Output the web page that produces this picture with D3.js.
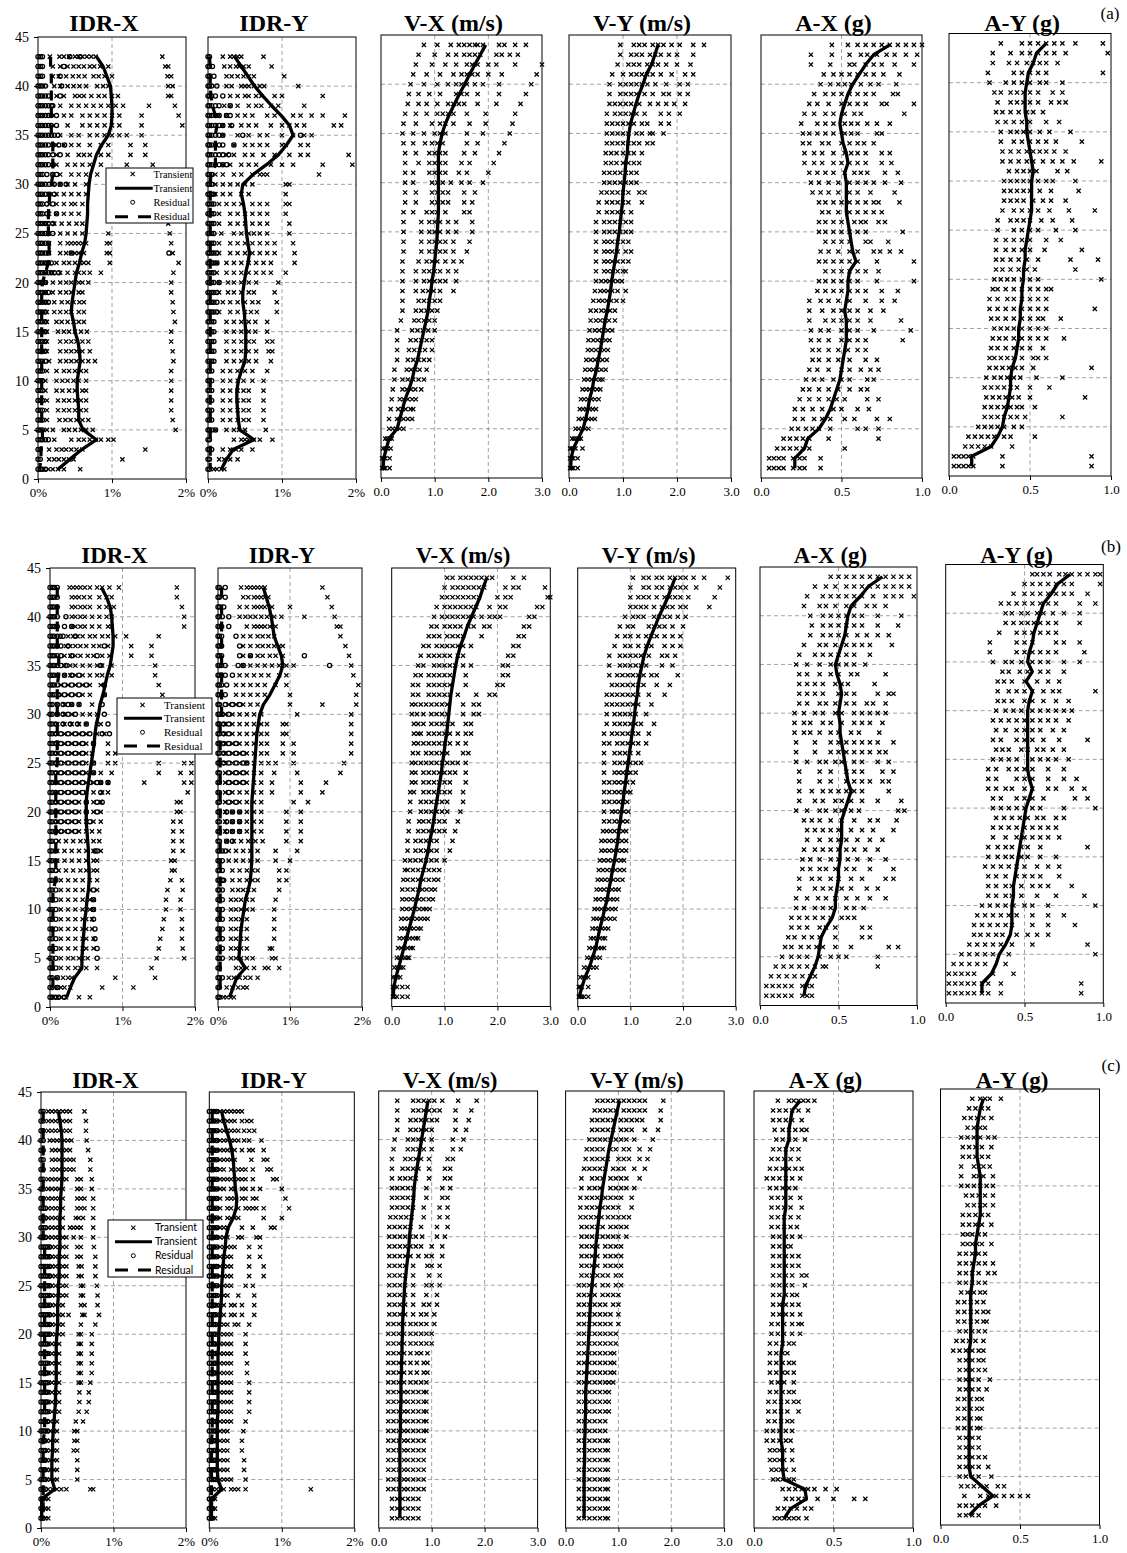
<!DOCTYPE html>
<html><head><meta charset="utf-8">
<script src="https://cdn.jsdelivr.net/npm/d3@7"></script>
<style>
body{margin:0;background:#fff}
svg{display:block}
.grid{stroke:#8a8a8a;stroke-width:0.8;stroke-dasharray:4,3;fill:none}
.frame{fill:none;stroke:#000;stroke-width:1}
.ax text{font-family:"Liberation Serif",serif;fill:#000}
.ax path{display:none}
.ax line{stroke:#000}
</style></head><body>
<svg id="c" width="1127" height="1553"></svg>
<script>
// ---------------- categories / ticks ----------------
const idrStories=[1,2,3,4,5,6,7,8,9,10,11,12,13,14,15,16,17,18,19,20,21,22,23,24,25,26,27,28,29,30,31,32,33,34,35,36,37,38,39,40,41,42,43];
const vaLevels=[1,2,3,4,5,6,7,8,9,10,11,12,13,14,15,16,17,18,19,20,21,22,23,24,25,26,27,28,29,30,31,32,33,34,35,36,37,38,39,40,41,42,43,44];
const yTicks=[0,5,10,15,20,25,30,35,40,45];
const gridLevels=[5,10,15,20,25,30,35,40];
const idrTicks=[0,1,2], idrTickLabels=["0%","1%","2%"];
const vTicks=[0,1,2,3], vTickLabels=["0.0","1.0","2.0","3.0"];
const aTicks=[0,0.5,1], aTickLabels=["0.0","0.5","1.0"];
const panelTitles=["IDR-X","IDR-Y","V-X (m/s)","V-Y (m/s)","A-X (g)","A-Y (g)"];
const rowLetters=["(a)","(b)","(c)"];
const legendLabels=["Transient","Transient","Residual","Residual"];
// All arrays below: top storey first, going down to storey/level 1.

// ================= ROW (a) =================
const aIdrXMed=[.79,.88,.93,.98,.99,1.0,1.0,.99,.95,.86,.79,.75,.71,.69,.68,.67,.67,.66,.65,.63,.59,.56,.52,.50,.48,.46,.45,.48,.50,.54,.56,.57,.55,.53,.53,.54,.55,.55,.61,.79,.59,.43,.27];
const aIdrXPts=[
[.16,.29,.35,.42,.5,.55,.6,.66,.72,.78,1.68],[.2,.3,.4,.48,.55,.62,.7,.76,.84,.95,1.72,1.76],[.2,.28,.38,.47,.55,.63,.75,.82,.9,1.0,1.75,1.8],
[.22,.3,.4,.48,.56,.65,.8,.88,.95,1.76,1.82],[.25,.35,.5,.56,.62,.72,.82,.9,1.0,1.08,1.76,1.8],[.3,.45,.55,.65,.75,.85,.95,1.05,1.15,1.5,1.85],
[.35,.45,.6,.7,.8,.9,1.0,1.1,1.4,1.9],[.4,.6,.7,.8,.9,1.0,1.1,1.4,1.95],[.3,.45,.55,.7,.8,.9,1.0,1.1,1.2,1.4],
[.25,.35,.45,.55,.7,.85,.95,1.25,1.45],[.25,.4,.55,.62,.7,.85,.95,1.25,1.45],[.25,.4,.5,.6,.7,.85,1.2,1.55],
[.2,.3,.45,.55,.65,.8],[.2,.3,.4,.5,.65],[.15,.25,.35,.45,.55,.65],[.15,.25,.35,.45,.5,.6],[.15,.25,.35,.45,.55],
[.12,.22,.32,.42,.52,.6,1.76],[.15,.3,.4,.5,.6,.95,1.78],[.15,.3,.4,.45,.5,.55,.6,.65,.93,.97,1.8],
[.15,.3,.38,.45,.5,.55,.62,.93,.97,1.82],[.12,.25,.35,.42,.5,.57,.62,.68,.97,1.9],[.1,.2,.3,.4,.5,.55,.62,.7,.85,1.83],
[.1,.2,.3,.38,.45,.55,.6,.68,1.8],[.1,.2,.3,.38,.45,.55,.6,1.8],[.12,.22,.32,.4,.48,.56,.62,1.82],[.12,.22,.3,.38,.45,.55,.62,1.83],
[.12,.25,.32,.4,.48,.55,.62,1.85],[.12,.27,.35,.42,.5,.58,.66,1.8],[.12,.3,.38,.45,.52,.6,.68,1.8],[.12,.3,.38,.45,.52,.6,.7,1.82],
[.15,.3,.38,.45,.52,.6,.68,.77,1.83],[.12,.25,.35,.42,.5,.58,.65,1.8],[.1,.25,.33,.4,.48,.55,.65,1.8],[.1,.25,.33,.42,.5,.6,.65,1.8],
[.12,.27,.35,.42,.5,.58,.65,1.8],[.12,.27,.35,.42,.5,.58,.65,1.8],[.12,.29,.37,.44,.52,.6,.68,1.82],[.12,.2,.35,.42,.5,.58,.65,.74,1.86],
[.22,.45,.55,.62,.7,.78,.85,.95,1.02],[.15,.25,.32,.38,.45,.52,.6,1.45],[.15,.22,.28,.35,.42,.48,1.14],[.08,.14,.2,.27,.35,.57]];
const aIdrXRes=[
[0,.03,.06,.43,.57],[0,.03,.06,.35],[0,.03,.06,.3],[0,.03,.06,.1,.32],[0,.03,.06,.1,.14,.3],[0,.03,.06,.1,.14,.18,.2],[0,.03,.06,.1,.14,.18,.25],
[0,.03,.06,.1,.14,.18,.25],[0,.03,.06,.1,.14,.18,.22,.27],[0,.03,.06,.1,.14,.2,.28,.36],[0,.03,.06,.1,.14,.2,.3],[0,.03,.06,.1,.14,.2],
[0,.03,.06,.12,.2,.25],[0,.03,.06,.1,.15,.22,.3,.38],[0,.03,.06,.1,.15,.22],[0,.03,.06,.12,.2],[0,.03,.06,.12,.25],[0,.03,.06,.1,.14,.2],
[0,.03,.06,.1,.14,.2],[0,.03,.06,.1,.14],[0,.03,.06,.1,.14,.45,1.77],[0,.03,.06,.1,.14,.18],[0,.03,.06,.1,.14,.18,.22,.28],[0,.03,.06,.1],
[0,.03,.06,.1,.14],[0,.03,.06,.1,.14],[0,.03,.06,.1],[0,.03,.06,.1],[0,.03,.06,.1],[0,.03,.06,.1],[0,.03,.06,.1],[0,.03,.06,.1],
[0,.03,.06],[0,.03,.06],[0,.03,.06],[0,.03,.06],[0,.03,.06],[0,.03,.06],[0,.03,.06],[0,.03,.06,.1,.14],[0,.03],[0,.03],[0,.03,.06,.1]];
const aIdrXResMed=[.17,.17,.18,.18,.18,.18,.18,.18,.18,.2,.2,.2,.2,.18,.16,.15,.14,.14,.14,.15,.15,.14,.1,.06,.05,.05,.05,.05,.05,.05,.05,.05,.05,.05,.05,.05,.05,.05,.06,.06,.04,.04,.02];

const aIdrYMed=[.36,.45,.54,.63,.74,.86,.99,1.1,1.15,1.06,.95,.79,.61,.47,.45,.48,.50,.51,.52,.54,.56,.54,.51,.49,.47,.47,.49,.50,.51,.51,.51,.50,.45,.41,.39,.39,.40,.41,.43,.62,.34,.25,.18];
const aIdrYPts=[
[.2,.3,.35,.4,.45,.75],[.22,.3,.38,.42,.48,.55,.86],[.25,.32,.4,.48,.55,.62,1.03],[.25,.32,.45,.5,.55,.62,.7,.76,1.22],
[.3,.4,.5,.55,.65,.72,.9,1.0,1.55],[.22,.3,.4,.55,.65,.72,.85,.95,1.3],[.15,.25,.4,.5,.6,.8,.9,1.15,1.25,1.4,1.55,1.85],
[.2,.3,.45,.55,.65,.85,1.0,1.1,1.2,1.3,1.7,1.8],[.2,.4,.55,.7,.8,1.0,1.15,1.3,1.4],[.35,.5,.6,.7,.8,1.0,1.05,1.25,1.35],
[.25,.35,.5,.6,.75,.9,1.1,1.25,1.35,1.9],[.2,.3,.45,.55,.65,.85,1.0,1.15,1.55,1.95],[.1,.2,.35,.45,.6,.7,.75,.8,1.5],
[.1,.2,.3,.4,.5,.6,1.05,1.1],[.1,.2,.3,.45,.55,1.05],[.15,.25,.35,.45,.6,.7,.8,1.05,1.1],[.15,.3,.4,.5,.6,.7,.8,1.05],
[.15,.3,.4,.5,.6,.7,.8,1.1],[.18,.35,.45,.55,.62,.7,.8,1.1],[.15,.3,.4,.5,.6,.7,.8,.9,1.15],[.15,.3,.4,.5,.6,.7,.8,.9,1.17],
[.12,.25,.35,.45,.55,.65,.75,.85,1.17],[.12,.25,.35,.45,.55,.65,.75,.85,1.05],[.15,.27,.35,.45,.55,.65,.95],[.15,.27,.35,.45,.55,.62,.9],
[.2,.3,.4,.5,.6,.68,.93],[.15,.3,.4,.5,.58,.66,.93],[.25,.35,.45,.55,.64,.8],[.25,.35,.45,.55,.64,.8],[.25,.35,.45,.55,.62,.8,.87],
[.25,.35,.45,.55,.65,.82,.87],[.25,.35,.45,.55,.65,.85],[.2,.3,.4,.5,.6,.8],[.2,.3,.4,.48,.6,.75],[.2,.3,.4,.48,.55,.75],
[.2,.3,.4,.48,.55,.75],[.2,.3,.4,.48,.55,.75],[.2,.3,.4,.48,.55,.75],[.1,.25,.35,.42,.5,.78],[.35,.45,.5,.55,.62,.7,.87],
[.2,.3,.38,.45,.6],[.15,.22,.3,.4],[.08,.12,.18,.22]];
const aIdrYRes=[
[0,.02],[0,.02,.06],[0,.02,.08],[0,.02,.05,.12],[0,.02,.05,.1,.2],[0,.02,.05,.1,.15,.3],[0,.02,.05,.1,.15,.25,.3],[0,.02,.05,.1,.15,.2,.32],
[0,.02,.05,.1,.15,.2,.47,1.25],[0,.02,.05,.1,.15,.2,.35],[0,.02,.05,.1,.15,.2,.28],[0,.02,.05,.1,.15,.2,.25],[0,.02,.05],[0,.02,.05],
[0,.02,.05,.08],[0,.02,.05,.08],[0,.02,.05,.08],[0,.02,.05,.08],[0,.02,.05,.08],[0,.02,.05,.08],[0,.02,.05,.08,.12],[0,.02,.05,.08,.12],
[0,.02,.05,.08],[0,.02,.05,.08,.15],[0,.02,.05,.08,.12],[0,.02,.05,.08,.12],[0,.02,.05,.08,.12],[0,.02,.05,.08],[0,.02,.05,.08],
[0,.02,.05,.08],[0,.02,.05,.08],[0,.02,.05,.08],[0,.02,.05],[0,.02,.05],[0,.02,.05],[0,.02,.05],[0,.02,.05],[0,.02,.05],[0,.02,.05,.1],
[0,.02],[0,.02,.05],[0,.02],[0,.02]];
const aIdrYResMed=[.02,.03,.03,.03,.04,.06,.1,.12,.1,.1,.1,.1,.04,.03,.03,.03,.03,.03,.03,.03,.03,.03,.03,.03,.03,.03,.03,.03,.03,.03,.03,.03,.03,.03,.03,.03,.03,.03,.03,.03,.03,.03,.03];

const aVxMed=[1.95,1.85,1.75,1.65,1.56,1.46,1.37,1.28,1.2,1.14,1.1,1.07,1.07,1.07,1.07,1.07,1.07,1.07,1.06,1.05,1.04,1.02,1.0,.98,.95,.93,.9,.88,.84,.8,.76,.72,.68,.62,.58,.52,.45,.4,.35,.3,.15,.1,.05,.04];
const aVxPts=[
[.8,1.05,1.3,1.45,1.55,1.65,1.75,1.8,1.9,2.2,2.3,2.5,2.7],[.7,1.0,1.25,1.4,1.55,1.65,1.75,1.85,2.15,2.25,2.4,2.55],
[.65,.95,1.2,1.4,1.6,1.7,1.8,2.0,2.15,2.5,3.0],[.6,.85,1.1,1.35,1.5,1.6,1.7,1.8,2.0,2.25,2.9],[.55,.8,1.05,1.25,1.4,1.5,1.6,1.75,1.9,2.2,2.8],
[.52,.7,.9,1.1,1.4,1.5,1.6,1.8,2.2,2.7],[.5,.7,.85,1.05,1.25,1.35,1.45,1.55,1.8,2.15,2.6],[.45,.65,.85,1.05,1.15,1.25,1.35,1.6,1.95,2.5],
[.42,.65,.95,1.1,1.2,1.35,1.65,1.95,2.45],[.4,.6,.8,1.0,1.1,1.2,1.6,1.9,2.4],[.42,.6,.82,.95,1.05,1.15,1.6,1.8,2.3],
[.45,.65,.9,1.0,1.1,1.2,1.55,1.75,2.2],[.45,.7,.9,1.0,1.1,1.2,1.5,1.65,2.1],[.45,.6,.9,1.0,1.1,1.2,1.45,1.6,2.0],
[.45,.6,.95,1.05,1.15,1.3,1.5,1.65,1.9],[.45,.65,.95,1.05,1.15,1.25,1.55,1.75],[.45,.65,.95,1.05,1.15,1.25,1.55,1.7],
[.42,.6,.85,.95,1.05,1.2,1.55,1.65],[.42,.75,.9,1.0,1.1,1.25,1.4,1.7],[.42,.75,.9,1.0,1.1,1.25,1.4,1.7],[.42,.75,.9,1.0,1.1,1.2,1.35,1.65],
[.42,.75,.9,1.0,1.1,1.2,1.35,1.6],[.4,.7,.85,.95,1.05,1.2,1.35,1.5],[.4,.65,.8,.9,1.0,1.1,1.25,1.4],[.4,.65,.8,.9,1.0,1.1,1.2,1.4],
[.4,.65,.78,.88,.98,1.1,1.35],[.4,.7,.8,.9,1.0,1.1],[.4,.65,.75,.85,.95,1.05],[.37,.62,.7,.8,.9,1.0],[.3,.58,.68,.78,.88,1.0],
[.3,.55,.65,.75,.85,.95],[.3,.52,.62,.72,.82,.95],[.3,.5,.6,.7,.8,.9],[.25,.48,.56,.64,.72,.85],[.25,.4,.5,.6,.7,.8],
[.22,.4,.48,.56,.64,.75],[.2,.35,.42,.5,.58,.65],[.18,.32,.4,.46,.55,.6],[.15,.3,.35,.42,.5,.58],[.15,.22,.28,.35,.42],
[.08,.12,.16,.2],[.04,.08,.12,.18],[.02,.05,.08,.16],[.02,.05,.08,.16]];

const aVyMed=[1.65,1.59,1.53,1.43,1.37,1.3,1.24,1.19,1.14,1.11,1.09,1.08,1.05,1.04,1.02,1.0,.99,.97,.95,.93,.9,.88,.85,.82,.79,.77,.74,.71,.67,.64,.61,.58,.54,.51,.46,.43,.38,.35,.31,.26,.17,.08,.04,.03];
const aVyPts=[
[.95,1.2,1.3,1.4,1.55,1.65,1.75,1.9,2.05,2.3,2.5],[.95,1.15,1.25,1.35,1.5,1.6,1.7,1.85,2.0,2.3],[.9,1.1,1.2,1.3,1.45,1.55,1.65,1.8,2.0,2.25],
[.8,1.0,1.15,1.25,1.35,1.45,1.55,1.7,1.9,2.15,2.3],[.75,.95,1.05,1.15,1.25,1.35,1.45,1.6,1.8,2.05,2.2],[.75,.95,1.05,1.15,1.25,1.4,1.55,1.75,1.85,2.05,2.2],
[.75,.85,.95,1.05,1.15,1.3,1.5,1.65,1.8,1.95,2.15],[.7,.85,.95,1.05,1.15,1.25,1.4,1.7,1.85,2.05],[.7,.8,.9,1.0,1.1,1.2,1.35,1.45,1.7,1.85],
[.7,.8,.9,1.0,1.1,1.25,1.35,1.5,1.55,1.75],[.7,.8,.9,1.0,1.1,1.2,1.3,1.45,1.55],[.68,.78,.88,1.0,1.1,1.2,1.35],[.68,.78,.88,1.0,1.1,1.2,1.3],
[.65,.75,.85,.95,1.05,1.15,1.25],[.65,.75,.85,.95,1.05,1.15,1.25],[.6,.7,.8,.9,1.0,1.1,1.3,1.4],[.55,.7,.8,.9,1.0,1.1,1.35],
[.55,.7,.8,.9,1.0,1.15],[.5,.65,.75,.85,.95,1.05,1.15],[.5,.65,.75,.85,.95,1.05,1.15],[.5,.65,.72,.8,.9,1.0,1.1],[.5,.65,.72,.8,.9,1.05,1.15],
[.5,.65,.72,.8,.9,1.0,1.1],[.5,.65,.72,.8,.9,1.0,1.05],[.5,.6,.68,.75,.82,.9,.98],[.48,.58,.65,.72,.8,.9,1.05],[.45,.55,.62,.7,.78,.88,1.0],
[.4,.5,.6,.68,.76,.85],[.4,.5,.58,.66,.74,.85],[.38,.48,.56,.64,.72,.8],[.36,.45,.53,.6,.68,.75],[.35,.42,.5,.58,.65,.72],
[.32,.4,.48,.55,.62,.7],[.3,.38,.45,.52,.6,.68],[.28,.35,.42,.5,.58,.62],[.25,.32,.38,.45,.52,.58],[.22,.28,.35,.42,.48,.55],
[.2,.26,.32,.38,.44,.5],[.18,.24,.3,.36,.42,.48],[.12,.18,.24,.3,.36],[.06,.1,.14,.18,.22],[.02,.05,.08,.12,.25],[.02,.05,.08,.16],[.02,.05,.08,.16]];

const aAxMed=[.80,.70,.65,.61,.57,.54,.52,.50,.49,.50,.51,.53,.54,.52,.53,.53,.53,.53,.54,.55,.56,.57,.59,.55,.54,.54,.53,.52,.53,.53,.53,.52,.51,.50,.49,.47,.45,.43,.40,.36,.29,.27,.21,.21];
const aAxPts=[
[.44,.54,.6,.65,.7,.75,.8,.85,.9,.95,1.0],[.31,.44,.55,.62,.66,.72,.78,.83,.9,.97],[.31,.43,.55,.58,.65,.7,.75,.83,.95],
[.39,.45,.5,.55,.6,.65,.7,.76,.86],[.37,.43,.48,.52,.56,.62,.68,.73,.84],[.33,.4,.45,.5,.55,.6,.65,.7,.82,.85],
[.3,.35,.42,.5,.55,.6,.65,.75,.78,.95],[.27,.33,.4,.45,.52,.58,.62,.89],[.25,.35,.4,.45,.52,.56,.6,.66,.72,.8],
[.26,.3,.35,.4,.45,.52,.56,.6,.72,.75],[.26,.3,.38,.42,.5,.55,.6,.64,.7],[.27,.33,.38,.45,.52,.56,.6,.65,.75,.8],
[.27,.33,.38,.45,.5,.55,.6,.65,.75,.81],[.3,.35,.4,.45,.52,.58,.62,.66,.77,.85],[.31,.36,.42,.48,.55,.6,.65,.7,.77,.87],
[.32,.37,.42,.48,.55,.6,.68,.83],[.36,.4,.45,.5,.55,.6,.65,.7,.73,.86],[.38,.42,.48,.55,.6,.65,.7,.75],[.36,.4,.45,.5,.58,.62,.65,.73,.77],
[.36,.4,.45,.5,.55,.6,.65,.88],[.4,.45,.5,.55,.65,.68,.79],[.37,.42,.48,.55,.6,.7,.74,.8,.87],[.36,.4,.45,.5,.55,.6,.72,.95],
[.4,.45,.5,.55,.6,.65,.73],[.36,.4,.45,.5,.55,.6,.72,.95],[.35,.4,.45,.5,.55,.6,.65,.75,.85],[.3,.37,.42,.48,.55,.65,.75,.83],
[.3,.38,.45,.5,.55,.6,.68,.76],[.3,.4,.45,.5,.55,.6,.68,.87],[.31,.37,.42,.5,.55,.6,.7,.93],[.31,.36,.42,.5,.55,.6,.65,.88],
[.32,.36,.42,.48,.54,.6,.65],[.32,.36,.42,.48,.55,.65,.72],[.3,.35,.42,.5,.55,.62,.68,.73],[.28,.33,.38,.45,.5,.55,.66,.7],
[.26,.3,.36,.42,.48,.55,.62,.66],[.24,.3,.36,.42,.47,.52,.66,.73],[.21,.26,.32,.38,.45,.5,.6,.67],[.21,.26,.33,.38,.43,.52,.58,.72,.8],
[.19,.23,.28,.32,.36,.43,.6,.65,.73],[.14,.18,.22,.26,.3,.42,.73],[.1,.14,.18,.22,.26,.3,.52],[.05,.08,.11,.14,.2,.24,.27,.37],[.05,.08,.11,.14,.2,.24,.27,.37]];

const aAyMed=[.60,.54,.52,.49,.48,.47,.47,.47,.48,.48,.49,.50,.51,.52,.51,.51,.51,.51,.50,.49,.48,.47,.47,.46,.46,.45,.45,.44,.44,.43,.43,.42,.41,.39,.38,.38,.37,.36,.34,.33,.30,.26,.14,.14];
const aAyPts=[
[.32,.45,.5,.55,.6,.65,.7,.78,.95],[.27,.38,.45,.5,.55,.6,.65,.72,.98],[.27,.37,.42,.48,.52,.56,.6,.67],[.24,.4,.45,.5,.55,.6,.95],
[.25,.35,.4,.45,.5,.56,.6,.7],[.28,.32,.38,.42,.46,.5,.55,.64,.7],[.3,.38,.42,.46,.5,.55,.63,.68,.72],[.29,.33,.38,.43,.48,.52,.58],
[.3,.35,.4,.45,.5,.6,.68],[.32,.38,.42,.46,.5,.56,.62,.75],[.32,.4,.45,.5,.55,.6,.66,.82],[.33,.38,.43,.48,.52,.56,.6,.65,.72],
[.33,.38,.43,.48,.52,.58,.64,.7,.77,.94],[.37,.42,.46,.5,.54,.67,.73],[.34,.38,.42,.46,.5,.55,.6,.64,.78],[.34,.38,.42,.46,.5,.56,.63,.8],
[.34,.38,.42,.46,.52,.58,.63,.72],[.33,.4,.45,.5,.55,.62,.74,.9],[.3,.38,.42,.46,.5,.57,.64,.76],[.3,.4,.45,.5,.55,.66,.78],
[.29,.35,.4,.45,.5,.6,.69],[.29,.35,.4,.45,.5,.59,.82],[.29,.33,.38,.43,.48,.55,.75,.92],[.29,.33,.38,.43,.48,.53,.78],
[.28,.32,.36,.4,.45,.5,.55,.94],[.27,.3,.35,.4,.45,.5,.55,.6,.63],[.25,.3,.36,.4,.45,.5,.55,.6],[.25,.3,.35,.4,.45,.5,.55,.6,.9],
[.26,.3,.35,.4,.45,.5,.55,.58,.69],[.28,.32,.36,.4,.45,.5,.55,.6],[.27,.31,.35,.4,.45,.5,.55,.6,.71],[.26,.3,.35,.4,.45,.5,.58],
[.25,.28,.32,.36,.4,.45,.52,.55,.6],[.25,.29,.33,.37,.41,.45,.52,.88],[.23,.28,.32,.36,.4,.44,.54,.7],[.22,.26,.3,.34,.38,.42,.5,.62],
[.23,.27,.31,.35,.39,.43,.5,.84],[.22,.26,.3,.34,.38,.42,.45,.53],[.22,.26,.3,.34,.38,.42,.47,.7],[.18,.22,.26,.3,.34,.4,.45],
[.12,.16,.2,.24,.28,.34,.38,.53],[.1,.14,.18,.22,.26,.39],[.03,.06,.09,.12,.15,.33,.88],[.03,.06,.09,.12,.15,.33,.88]];

// ================= ROW (b) =================
const bIdrXMed=[.71,.78,.83,.85,.86,.87,.87,.85,.83,.79,.76,.73,.69,.67,.64,.62,.61,.59,.57,.55,.53,.51,.50,.50,.50,.51,.52,.53,.53,.54,.54,.53,.51,.50,.48,.47,.46,.45,.44,.44,.34,.28,.23];
const bIdrXPts=[
[.27,.32,.37,.42,.48,.55,.65,.72,.82,.95,1.75],[.3,.35,.4,.47,.55,.68,.78,.85,1.75],[.3,.35,.42,.48,.55,.68,.78,.88,1.82],
[.3,.35,.42,.48,.58,.68,.78,.85,1.85],[.3,.35,.42,.48,.58,.68,.8,.85,1.85],[.25,.32,.38,.45,.55,.62,.72,.8,.9,1.05,1.5],
[.22,.28,.35,.42,.5,.6,.68,.8,1.12,1.4],[.2,.28,.35,.42,.52,.6,.72,.82,1.12,1.4],[.2,.28,.35,.45,.55,.65,.72,.85,1.45],
[.2,.28,.35,.45,.55,.65,.72,.85,1.45],[.15,.25,.35,.45,.55,.7,.75,1.5],[.15,.25,.35,.45,.55,.75,1.55],[.1,.2,.3,.4,.58,1.6],
[.1,.2,.3,.45,.55,.65],[.1,.2,.3,.4,.5,.65,.7],[.1,.2,.3,.4,.5,.65,.75],[.1,.2,.3,.4,.5,.6,.8],[.1,.2,.3,.4,.5,.58,.8,.9],
[.1,.2,.3,.4,.5,.6,.8,.9,1.5,1.85,1.95],[.1,.2,.3,.4,.5,.6,.7,.85,1.5,1.8,1.95],[.1,.2,.3,.4,.5,.6,.7,.8,1.3,1.85,1.95],
[.1,.2,.3,.4,.5,.6,.72,.8,1.9],[.1,.2,.3,.4,.5,.6,.7,1.75,1.8],[.1,.2,.3,.4,.5,.6,.7,1.75,1.8],[.1,.2,.3,.4,.5,.6,.7,1.7,1.8],
[.12,.2,.3,.4,.5,.58,.68,1.7,1.82],[.12,.22,.32,.42,.5,.6,.68,1.7,1.82],[.1,.2,.3,.4,.5,.6,.7,1.7,1.83],[.1,.2,.3,.4,.5,.6,.65,1.67,1.72],
[.12,.22,.32,.42,.5,.6,.65,1.68,1.72],[.15,.25,.35,.45,.55,.65,1.66,1.82],[.15,.25,.35,.45,.55,.65,1.62,1.83],[.15,.25,.35,.45,.55,.6,1.6,1.8],
[.15,.25,.35,.45,.55,.6,1.6,1.8],[.15,.25,.35,.45,.5,.58,1.57,1.82],[.15,.25,.35,.45,.5,.58,1.55,1.82],[.15,.25,.35,.45,.5,.6,1.52,1.82],
[.15,.25,.35,.45,.5,.6,1.5,1.83],[.15,.25,.32,.4,.45,.52,1.47,1.85],[.15,.25,.35,.42,.5,.65,1.4],[.1,.18,.25,.3,.9,1.45],
[.1,.15,.2,.28,.72,1.15],[.05,.1,.15,.22,.4,.55]];
const bIdrXRes=[
[0,.03,.06,.1],[0,.03,.06,.1],[0,.03,.06,.1],[0,.03,.06,.1,.22],[0,.03,.06,.1,.2,.3],[0,.03,.06,.1,.14,.18,.35],[0,.03,.06,.1,.15,.25,.75],
[0,.03,.06,.1,.15,.3,.65],[0,.03,.06,.1,.15,.22,.7],[0,.03,.06,.1,.2,.3,.4],[0,.03,.06,.1,.2,.3,.4,.5,.75],[0,.03,.06,.12,.2,.3,.4,.75],
[0,.03,.1,.18,.25,.3,.4,.72],[0,.03,.1,.18,.25,.35,.75],[0,.03,.08,.18,.28,.38,.5,.8],[0,.03,.08,.15,.25,.35,.45,.55,.72,.82],
[0,.03,.08,.15,.25,.35,.45,.6],[0,.03,.08,.15,.25,.35,.45],[0,.03,.08,.15,.25,.35,.45,.6],[0,.03,.08,.15,.25,.35,.45,.6],
[0,.03,.08,.15,.25,.35,.45,.55,.65,.7,.8],[0,.03,.08,.15,.25,.35,.45,.7],[0,.03,.08,.15,.25,.35,.5,.65,.72],[0,.03,.08,.15,.25,.35,.5,.65],
[0,.03,.08,.15,.25,.35,.55],[0,.03,.08,.15,.25,.35],[0,.03,.08],[0,.03,.08,.62,.65],[0,.03,.08],[0,.03,.08],[0,.03,.08],[0,.03,.08,.6],
[0,.03,.08,.6],[0,.03,.08,.6],[0,.03,.08,.6],[0,.03,.08,.62],[0,.03,.08,.62],[0,.03,.08,.65],[0,.03,.08,.65],[0,.03,.08],[0,.03,.1],
[0,.03,.1],[0,.03,.08,.12,.2]];
const bIdrXResMed=[.1,.1,.1,.1,.1,.1,.1,.12,.12,.12,.1,.1,.1,.1,.1,.1,.1,.1,.1,.08,.08,.08,.08,.08,.08,.08,.08,.08,.08,.08,.08,.04,.04,.04,.04,.04,.04,.04,.04,.04,.04,.04,.04];

const bIdrYMed=[.63,.67,.71,.74,.76,.78,.83,.88,.90,.86,.79,.72,.63,.58,.56,.54,.53,.52,.51,.50,.49,.48,.47,.47,.47,.47,.47,.47,.47,.46,.45,.42,.38,.36,.34,.32,.31,.30,.29,.38,.26,.21,.16];
const bIdrYPts=[
[.32,.4,.45,.5,.55,.6,.65,1.45],[.35,.42,.5,.55,.6,.65,.7,1.52],[.3,.4,.5,.55,.6,.65,.75,1.0,1.58],[.3,.38,.45,.52,.6,.68,.78,.88,1.2,1.62],
[.4,.5,.55,.6,.65,.72,.8,1.65,1.7],[.35,.45,.55,.62,.7,.78,1.7],[.35,.45,.55,.62,.7,.78,.85,.9,1.77],[.35,.45,.55,.62,.72,.8,.9,1.82],
[.35,.45,.55,.65,.75,.85,.95,1.05,1.85],[.3,.4,.5,.6,.7,.85,.95,1.88],[.25,.35,.45,.55,.65,.8,.95,1.95],[.25,.35,.45,.55,.65,1.0,1.92],
[.15,.25,.35,.45,.55,1.0,1.45,1.92],[.1,.2,.3,.4,.5,.6,1.1,1.85],[.1,.2,.3,.4,.5,.6,.68,.9,.95,1.85],[.1,.2,.3,.4,.5,.6,.68,.9,.95,1.85],
[.1,.2,.3,.4,.5,.6,.68,.9,1.05,1.85],[.1,.2,.3,.4,.5,.6,.68,.9,1.05,1.85],[.1,.2,.3,.4,.5,.6,.7,.8,1.05,1.75],[.1,.2,.3,.4,.5,.6,.78,1.1,1.7],
[.1,.2,.3,.4,.5,.6,.75,1.15,1.5],[.1,.2,.3,.4,.5,.6,.75,1.15,1.45],[.1,.2,.3,.4,.5,.6,1.05,1.25],[.1,.2,.3,.4,.5,.6,.95,1.15],
[.1,.2,.3,.4,.5,.6,.95,1.15],[.1,.2,.3,.4,.5,.6,.95,1.15],[.12,.22,.32,.42,.52,.62,.95,1.15],[.15,.25,.35,.45,.55,.8,1.1],
[.15,.25,.35,.45,.55,.8,1.0],[.2,.3,.4,.48,.55,.85,.95],[.2,.3,.4,.48,.55,.85,.95],[.2,.28,.35,.42,.5,.85],[.18,.25,.32,.4,.48,.8],
[.18,.25,.32,.4,.48,.78],[.18,.25,.32,.4,.78],[.18,.25,.32,.4,.78],[.18,.25,.32,.4,.78],[.18,.25,.32,.4,.72,.75],[.18,.25,.32,.4,.48,.75,.8],
[.25,.32,.4,.5,.65,.7,.85],[.15,.22,.3,.38,.45,.55],[.12,.2,.28,.35,.4],[.08,.12,.18,.22]];
const bIdrYRes=[
[0,.02,.1],[0,.02,.1],[0,.02,.08],[0,.02,.06,.15],[0,.02,.05,.15],[0,.02,.05,.25],[0,.02,.05,.3],[0,.02,.05,.3,.45,1.2],
[0,.02,.05,.1,.28,.35,1.55],[0,.02,.05,.1,.2],[0,.02,.05,.12],[0,.02,.05,.1],[0,.02,.1,.2,.3],[0,.02,.06,.15],[0,.02,.08,.15],
[0,.02,.08,.15],[0,.02,.08,.15,.25],[0,.02,.08,.15,.25,.35],[0,.02,.08,.15,.25,.35,.4],[0,.02,.15,.25,.35],[0,.02,.15,.25,.35],
[0,.02,.15],[0,.02,.15,.25],[0,.02,.12,.2,.3],[0,.02,.12,.2,.3],[0,.02,.12,.2,.3],[0,.02,.12,.2],[0,.02,.06,.1],[0,.02,.06],
[0,.02,.06],[0,.02,.06,.08],[0,.02,.06],[0,.02,.06],[0,.02,.06],[0,.02,.06],[0,.02,.06],[0,.02,.06],[0,.02,.06],[0,.02,.06],
[0,.02],[0,.02,.06],[0,.02],[0,.02]];
const bIdrYResMed=[.05,.05,.05,.05,.05,.05,.05,.05,.05,.05,.05,.05,.05,.05,.03,.03,.03,.03,.03,.03,.03,.03,.03,.03,.03,.03,.03,.03,.03,.03,.03,.03,.03,.03,.03,.03,.03,.03,.03,.03,.03,.03,.03];

const bVxMed=[1.8,1.73,1.67,1.59,1.51,1.43,1.37,1.3,1.25,1.21,1.18,1.15,1.12,1.1,1.08,1.06,1.04,1.01,.99,.96,.94,.91,.88,.85,.82,.79,.76,.72,.69,.65,.6,.55,.52,.47,.43,.38,.33,.28,.23,.18,.13,.08,.04,.03];
const bVxPts=[
[1.05,1.15,1.3,1.4,1.5,1.6,1.7,1.8,1.9,2.3,2.5],[1.0,1.15,1.25,1.35,1.45,1.55,1.65,1.75,2.15,2.3,2.4,2.9],
[.95,1.05,1.15,1.25,1.35,1.45,1.55,1.65,2.0,2.15,2.25,2.95,3.0],[.85,1.0,1.1,1.2,1.3,1.4,1.5,1.6,1.85,2.05,2.15,2.75,2.85],
[.8,.95,1.05,1.15,1.25,1.35,1.45,1.55,1.7,1.85,1.95,2.05,2.6,2.7],[.75,.85,1.0,1.1,1.2,1.3,1.45,1.55,1.75,1.85,2.5,2.6],
[.7,.8,.9,1.05,1.15,1.25,1.35,1.7,2.4,2.5],[.6,.7,.85,.95,1.05,1.15,1.25,1.35,1.5,2.3,2.4],[.55,.7,.8,.9,1.0,1.1,1.25,1.35,2.2,2.3],
[.5,.6,.8,.9,1.0,1.1,1.2,1.35,1.5,2.1,2.2],[.45,.55,.7,.8,.9,1.0,1.1,1.4,2.1,2.2],[.4,.5,.7,.8,.9,1.0,1.1,1.4,2.0,2.1],
[.4,.5,.7,.8,.9,1.0,1.1,1.25,1.6,1.85,1.95],[.38,.45,.55,.65,.75,.85,.95,1.05,1.35,1.55,1.65],[.38,.48,.6,.75,.85,.95,1.05,1.35,1.55,1.65],
[.42,.5,.6,.75,.85,.95,1.05,1.15,1.4,1.5],[.42,.5,.55,.7,.8,.9,1.0,1.1,1.25,1.4,1.5],[.42,.5,.6,.7,.8,.9,1.0,1.1,1.25,1.4],
[.4,.5,.65,.75,.85,.95,1.05,1.35,1.45],[.38,.45,.55,.65,.75,.85,.95,1.05,1.15,1.25,1.4],[.38,.45,.6,.7,.8,.9,1.0,1.1,1.2,1.4],
[.38,.45,.6,.7,.8,.9,1.0,1.1,1.4],[.35,.42,.6,.7,.8,.9,1.0,1.1,1.35],[.35,.55,.65,.75,.85,.95,1.05,1.35],[.35,.55,.65,.75,.85,.95,1.05,1.3],
[.32,.52,.6,.7,.8,.9,1.0,1.25],[.32,.5,.6,.7,.8,.9,1.0,1.2],[.3,.45,.55,.65,.75,.85,1.15],[.3,.45,.55,.65,.75,.85,1.1],
[.25,.35,.45,.55,.65,.75,.85,1.0],[.25,.3,.4,.5,.6,.7,.8,.9],[.22,.3,.4,.5,.6,.7,.8,.88],[.2,.3,.4,.5,.58,.66,.75,.82],
[.2,.28,.36,.44,.52,.6,.7,.78],[.2,.28,.36,.44,.52,.6,.65,.72],[.18,.25,.32,.4,.48,.55,.62,.68],[.18,.24,.3,.36,.42,.5,.55],
[.15,.22,.28,.34,.4,.46,.5],[.12,.18,.24,.3,.36,.4],[.1,.15,.2,.25,.3,.33],[.05,.1,.14,.18,.22],[.03,.07,.11,.16],[.02,.05,.1,.2,.3],[.02,.05,.1,.2,.3]];

const bVyMed=[1.85,1.78,1.71,1.63,1.54,1.47,1.39,1.32,1.26,1.22,1.18,1.15,1.13,1.1,1.08,1.06,1.03,1.01,.98,.96,.93,.91,.88,.86,.83,.81,.78,.76,.73,.70,.66,.63,.59,.56,.51,.47,.42,.38,.34,.28,.22,.14,.08,.03];
const bVyPts=[
[1.05,1.25,1.35,1.5,1.6,1.75,1.85,1.95,2.05,2.2,2.4,2.85],[1.0,1.25,1.35,1.5,1.6,1.75,1.85,1.95,2.05,2.25,2.7],
[1.0,1.15,1.25,1.35,1.5,1.65,1.75,1.85,1.95,2.1,2.6],[1.0,1.1,1.2,1.3,1.45,1.6,1.7,1.8,1.95,2.05,2.5],
[.9,1.05,1.15,1.25,1.45,1.55,1.65,1.75,1.9,2.05],[.8,.95,1.05,1.35,1.45,1.55,1.65,1.8,2.0],[.75,.9,1.0,1.15,1.3,1.4,1.5,1.65,1.8,1.95],
[.7,.9,1.0,1.15,1.3,1.4,1.65,1.8,1.95],[.6,.8,.9,1.0,1.1,1.2,1.35,1.6,1.7,1.85],[.6,.8,.9,1.0,1.1,1.2,1.3,1.6,1.8],
[.6,.75,.85,.95,1.05,1.15,1.25,1.4,1.5,1.9],[.65,.75,.85,.95,1.05,1.15,1.25,1.5,1.75],[.55,.65,.75,.85,.95,1.05,1.15,1.35,1.65],
[.55,.65,.75,.85,.95,1.05,1.15,1.4],[.55,.7,.8,.9,1.0,1.1,1.3],[.55,.7,.8,.9,1.0,1.1,1.2,1.45],[.5,.65,.75,.85,.95,1.05,1.15,1.35],
[.5,.6,.75,.85,.95,1.05,1.15,1.3],[.5,.7,.8,.9,1.0,1.15],[.5,.7,.8,.9,1.0,1.1,1.2],[.5,.7,.78,.86,.94,1.0,1.1],[.5,.6,.7,.78,.86,.94,1.05],
[.5,.6,.7,.78,.86,.94,1.0],[.5,.6,.7,.78,.86,.94],[.5,.65,.72,.8,.88,.96],[.5,.6,.7,.78,.86,.94],[.48,.55,.62,.7,.78,.86,.92],
[.45,.52,.6,.68,.76,.84,.92],[.45,.52,.6,.68,.76,.84,.92],[.42,.5,.58,.66,.74,.82,.88],[.4,.48,.56,.64,.72,.8,.88],[.38,.45,.52,.6,.68,.76,.85],
[.36,.43,.5,.58,.65,.72,.78],[.34,.4,.48,.55,.62,.68,.75],[.32,.38,.45,.52,.58,.65,.72],[.3,.36,.42,.48,.55,.62,.7],[.28,.34,.4,.46,.52,.58],
[.25,.3,.36,.42,.48,.52],[.22,.28,.34,.4,.45,.5],[.18,.24,.3,.36,.42],[.12,.18,.24,.3,.36],[.05,.1,.15,.2],[.02,.05,.08,.2],[.02,.05,.08,.12,.2]];

const bAxMed=[.78,.69,.64,.58,.56,.55,.54,.52,.50,.48,.49,.51,.52,.51,.50,.51,.51,.52,.53,.54,.55,.56,.58,.56,.54,.52,.52,.52,.51,.51,.50,.50,.49,.48,.48,.46,.42,.39,.38,.37,.35,.32,.29,.28];
const bAxPts=[
[.45,.5,.55,.6,.65,.7,.75,.8,.85,.9,.95],[.35,.42,.48,.55,.6,.65,.7,.75,.8,.85,.9,.95],[.3,.4,.45,.5,.55,.6,.65,.72,.8,.85,.9,.98],
[.28,.38,.42,.48,.55,.6,.68,.73,.8],[.32,.4,.45,.5,.55,.6,.65,.75,.9],[.33,.4,.45,.5,.55,.6,.65,.75,.88],[.32,.4,.45,.5,.55,.62,.68,.75,.82],
[.28,.38,.42,.48,.55,.6,.65,.7,.84],[.25,.35,.4,.45,.5,.55,.6,.7],[.23,.3,.38,.45,.5,.55,.6,.67],[.25,.3,.38,.45,.5,.58,.62,.8],
[.25,.3,.35,.4,.48,.52,.56,.73],[.25,.3,.35,.4,.5,.55,.6,.75,.82,.85],[.25,.3,.38,.42,.48,.55,.6,.68,.72,.8],
[.22,.28,.35,.4,.48,.52,.6,.65,.7,.75,.8],[.22,.28,.32,.4,.45,.52,.6,.65,.7,.78],[.22,.28,.32,.38,.45,.5,.58,.63,.76],
[.23,.35,.45,.5,.55,.6,.65,.7,.75,.85],[.23,.35,.45,.5,.55,.6,.65,.7,.76,.8],[.23,.3,.38,.42,.48,.52,.6,.65,.75,.82],
[.25,.38,.45,.55,.6,.65,.78,.85],[.25,.38,.45,.55,.6,.65,.7,.78,.82],[.25,.33,.4,.45,.5,.55,.6,.65,.82],[.25,.35,.4,.48,.52,.58,.65,.75,.9],
[.23,.3,.38,.42,.48,.52,.58,.63,.88,.92],[.28,.33,.38,.45,.52,.6,.7,.75,.87],[.3,.35,.4,.45,.5,.58,.65,.72,.85],[.3,.38,.45,.5,.55,.62,.7,.78],
[.28,.35,.4,.45,.5,.55,.6,.67,.75],[.27,.32,.38,.45,.5,.56,.62,.7,.8],[.27,.32,.38,.42,.48,.55,.6,.7,.85],[.25,.33,.38,.45,.5,.58,.65,.8,.85],
[.25,.35,.4,.45,.52,.58,.68,.75],[.23,.3,.37,.42,.48,.55,.62,.7,.8],[.23,.28,.35,.4,.45,.55,.6,.66],[.2,.25,.3,.35,.4,.45,.52,.56,.6],
[.2,.25,.3,.38,.42,.48,.65,.7],[.18,.22,.28,.33,.38,.48,.65,.7],[.16,.2,.26,.31,.36,.4,.48,.58,.82,.88],[.14,.2,.25,.3,.38,.45,.5,.55,.75],
[.1,.15,.2,.25,.3,.35,.4,.42,.75],[.07,.12,.17,.22,.27,.32,.35],[.04,.08,.12,.16,.2,.27,.3,.33],[.04,.08,.12,.16,.2,.27,.3,.33]];

const bAyMed=[.79,.71,.67,.62,.60,.58,.56,.55,.53,.52,.55,.51,.55,.53,.52,.52,.52,.52,.52,.52,.52,.53,.55,.53,.51,.50,.49,.48,.47,.46,.45,.44,.43,.43,.42,.42,.42,.41,.38,.34,.32,.29,.23,.23];
const bAyPts=[
[.55,.58,.62,.66,.72,.76,.8,.85,.9,.95,.98],[.5,.55,.6,.65,.7,.75,.8,.98],[.43,.5,.55,.6,.65,.7,.75,.8,.9],[.35,.4,.45,.5,.55,.6,.65,.7,.85,.95],
[.38,.42,.48,.52,.58,.62,.68,.75,.85],[.38,.43,.48,.52,.56,.6,.65,.7,.85],[.34,.45,.5,.55,.6,.65,.7],[.28,.45,.5,.55,.7,.75,.85],
[.28,.45,.5,.55,.6,.65,.7,.88],[.3,.38,.42,.48,.55,.6,.65,.75,.85],[.36,.4,.47,.52,.6,.65,.75],[.33,.37,.42,.5,.58,.65,.72],
[.33,.4,.45,.5,.55,.62,.68,.72,.95],[.33,.37,.42,.5,.55,.62,.7,.78],[.32,.38,.43,.48,.55,.6,.65,.7,.75,.8],[.3,.35,.4,.45,.5,.55,.6,.65,.7,.78],
[.32,.38,.45,.5,.55,.6,.68,.75],[.3,.35,.45,.5,.55,.62,.72,.9],[.32,.36,.4,.48,.52,.58,.62,.68,.75],[.3,.35,.4,.45,.55,.6,.65,.7,.78],
[.27,.32,.4,.45,.5,.55,.65,.75],[.27,.32,.45,.5,.55,.65,.75,.83],[.27,.32,.38,.42,.5,.55,.65,.7,.8,.88],[.3,.35,.45,.5,.55,.62,.82,.9],
[.3,.35,.4,.45,.5,.55,.6,.75,.95],[.32,.37,.42,.47,.52,.58,.62,.7,.75],[.3,.35,.4,.45,.5,.55,.6,.65,.7],[.3,.38,.45,.5,.55,.6,.65,.72],
[.27,.33,.38,.42,.48,.52,.6,.9],[.27,.33,.38,.42,.48,.52,.6,.7],[.25,.3,.35,.4,.45,.5,.58,.65,.72],[.27,.32,.38,.45,.5,.55,.6,.72],
[.27,.32,.38,.42,.48,.55,.6,.65,.8],[.27,.32,.38,.42,.48,.58,.7,.88],[.23,.28,.33,.38,.43,.5,.55,.65,.95],[.2,.25,.3,.35,.4,.45,.55,.65,.75],
[.18,.23,.28,.33,.38,.42,.55,.65,.82],[.18,.22,.27,.32,.36,.45,.52,.58,.65],[.15,.2,.25,.3,.35,.42,.55,.9],[.1,.15,.2,.25,.3,.4,.95],
[.05,.1,.15,.2,.25,.38],[.02,.06,.1,.14,.18,.3,.43],[.02,.06,.1,.14,.18,.23,.27,.35,.86],[.02,.06,.1,.14,.18,.23,.27,.35,.86]];

// ================= ROW (c) =================
const cIdrXMed=[.24,.26,.28,.29,.29,.29,.29,.29,.28,.27,.27,.26,.26,.26,.26,.25,.25,.25,.24,.24,.23,.23,.23,.22,.21,.21,.21,.21,.21,.2,.2,.19,.18,.17,.16,.16,.15,.15,.15,.19,.01,.01,.01];
const cIdrXPts=[
[.1,.15,.2,.25,.3,.35,.4,.6],[.1,.15,.2,.25,.3,.35,.4,.62],[.1,.15,.2,.25,.3,.35,.4,.62],[.12,.17,.22,.27,.32,.37,.42,.63],
[.15,.2,.25,.3,.35,.4,.65],[.15,.2,.25,.3,.35,.4,.45,.68],[.15,.2,.25,.3,.35,.4,.45,.68],[.1,.15,.2,.25,.3,.35,.5,.55,.7],
[.1,.15,.2,.25,.3,.5,.55,.7],[.1,.15,.2,.25,.3,.5,.55,.6,.72],[.1,.15,.2,.25,.3,.5,.55,.6,.72],[.1,.15,.2,.25,.3,.48,.52,.58,.72],
[.1,.15,.2,.25,.3,.4,.45,.5,.55,.72],[.1,.15,.2,.25,.3,.35,.45,.55,.72],[.1,.15,.2,.25,.3,.35,.5,.55,.73],[.1,.15,.2,.25,.3,.35,.5,.55,.75],
[.1,.15,.2,.25,.3,.35,.52,.56,.75],[.1,.15,.2,.25,.3,.35,.52,.56,.75],[.1,.15,.2,.25,.3,.35,.55,.58,.77],[.1,.15,.2,.25,.3,.35,.55,.58,.78],
[.1,.15,.2,.25,.3,.55,.6,.78],[.1,.15,.2,.25,.3,.38,.57,.6,.8],[.1,.15,.2,.25,.3,.55,.75],[.1,.15,.2,.25,.3,.52,.55,.7],
[.1,.15,.2,.25,.52,.55,.7],[.1,.15,.2,.25,.52,.55,.7],[.1,.15,.2,.25,.52,.55,.7],[.1,.15,.2,.25,.52,.55,.7],[.1,.15,.2,.25,.52,.55,.68],
[.1,.15,.2,.25,.53,.66],[.1,.15,.2,.25,.53,.66],[.1,.15,.2,.25,.52,.63],[.08,.13,.18,.22,.48,.58],[.08,.13,.18,.22,.46,.5],
[.08,.13,.18,.22,.46,.5],[.08,.13,.18,.22,.45,.5],[.08,.13,.18,.22,.5],[.08,.13,.18,.22,.5],[.08,.13,.18,.22,.5],
[.1,.16,.22,.28,.35,.68,.72],[.02,.06,.1],[.02,.06,.1],[.02,.06,.1]];
const cIdrXRes=[
[0,.03],[0,.03],[0,.03],[0,.03],[0,.03],[0,.03],[0,.03],[0,.03],[0,.03],[0,.03],[0,.03,.06],[0,.03,.06],[0,.03,.06],[0,.03,.06],
[0,.03,.06,.09,.12],[0,.03,.06,.09,.12],[0,.03,.06,.09,.12],[0,.03,.06,.09,.12],[0,.03,.06,.09,.12],[0,.03,.06,.09,.12],[0,.03,.06,.09,.12],
[0,.03,.06,.09,.12],[0,.03,.06,.09,.12],[0,.03,.06,.09,.12],[0,.03,.06,.09],[0,.03,.06,.09],[0,.03,.06,.09],[0,.03,.06,.09],[0,.03,.06,.09],
[0,.03,.06,.09],[0,.03,.06,.09],[0,.03,.06,.09],[0,.03,.06,.09],[0,.03,.06,.09],[0,.03,.06],[0,.03,.06],[0,.03,.06],[0,.03,.06],[0,.03,.06],
[0,.03,.06],[0,.03],[0,.03],[0,.03]];
const cIdrXResMed=[.03,.03,.03,.03,.03,.03,.03,.03,.03,.03,.03,.03,.03,.03,.05,.05,.05,.05,.05,.05,.05,.05,.05,.05,.05,.05,.05,.05,.05,.05,.05,.05,.05,.05,.03,.03,.03,.03,.03,.03,.03,.03,.03];

const cIdrYMed=[.17,.2,.24,.28,.31,.33,.34,.35,.36,.38,.37,.33,.26,.23,.22,.2,.19,.18,.17,.17,.16,.15,.14,.13,.13,.12,.12,.12,.12,.12,.12,.12,.11,.11,.11,.11,.11,.11,.12,.17,.03,.03,.03];
const cIdrYPts=[
[.05,.1,.15,.2,.25,.3,.35,.4,.45],[.05,.1,.15,.2,.25,.3,.35,.45,.52,.58],[.05,.1,.15,.2,.25,.3,.35,.4,.48,.55,.62],
[.05,.1,.15,.2,.25,.3,.35,.4,.48,.55,.72],[.05,.1,.15,.2,.25,.3,.35,.45,.55,.6,.75],[.05,.1,.15,.2,.25,.3,.35,.58,.75,.8],
[.05,.1,.15,.2,.3,.4,.45,.5,.6,.8,.85],[.05,.1,.15,.2,.25,.3,.4,.45,.5,.6,.88,.93],[.05,.1,.15,.2,.3,.35,.45,.5,.6,.7,1.0],
[.05,.1,.15,.25,.3,.35,.45,.5,.6,.65,1.05],[.05,.1,.15,.25,.3,.4,.5,.55,.6,.65,.75,1.1],[.05,.1,.15,.25,.3,.35,.4,.75,1.0],
[.05,.1,.15,.2,.25,.45,.6,.85,.9],[.05,.1,.15,.2,.25,.4,.45,.65,.7],[.05,.1,.15,.2,.25,.3,.35,.55,.7],[.05,.1,.15,.2,.25,.3,.55,.7],
[.05,.1,.15,.2,.25,.3,.55,.75],[.05,.1,.15,.2,.25,.3,.55,.75],[.05,.1,.15,.2,.25,.3,.5,.6],[.05,.1,.15,.2,.25,.4,.62],
[.05,.1,.15,.2,.3,.35,.45,.62],[.05,.1,.15,.2,.3,.35,.45,.62],[.05,.1,.15,.2,.25,.35,.4,.55],[.05,.1,.15,.2,.25,.3,.5],
[.05,.1,.15,.2,.25,.3,.5],[.05,.1,.15,.2,.25,.3,.5],[.05,.1,.15,.2,.25,.3,.52],[.05,.1,.15,.2,.25,.3,.52],[.05,.1,.15,.2,.25,.3,.55],
[.05,.1,.15,.2,.25,.3,.55],[.05,.1,.15,.2,.25,.3,.55],[.05,.1,.15,.2,.25,.3,.55],[.05,.1,.15,.2,.25,.3,.5],[.05,.1,.15,.2,.25,.47],
[.05,.1,.15,.2,.25,.45],[.05,.1,.15,.2,.25,.45],[.05,.1,.15,.2,.25,.48],[.05,.1,.15,.2,.25,.48],[.05,.1,.15,.2,.25,.3,.5],
[.05,.1,.15,.2,.3,.35,.4,.5,1.4],[.02,.05,.08],[.02,.05,.08],[.02,.05,.08]];
const cIdrYRes=[
[0,.03,.06,.1],[0,.03,.06,.1],[0,.03,.06,.1],[0,.03,.06,.1],[0,.03,.06,.1],[0,.03,.06,.1],[0,.03,.06,.1],[0,.03,.06,.1],[0,.03,.06,.1],
[0,.03,.06,.1],[0,.03,.06,.1],[0,.03,.06,.1],[0,.03,.06,.1],[0,.03,.06,.1],[0,.03,.06,.1],[0,.03,.06,.1],[0,.03,.06,.1],[0,.03,.06,.1],
[0,.03,.06,.1],[0,.03,.06,.09],[0,.03,.06,.09],[0,.03,.06,.09],[0,.03,.06,.09],[0,.03,.06,.09],[0,.03,.06,.09],[0,.03,.06,.09],
[0,.03,.06,.09],[0,.03,.06,.09],[0,.03,.06,.09],[0,.03,.06,.09],[0,.03,.06,.09],[0,.03,.06,.09],[0,.03,.06,.09],[0,.03,.06,.09],
[0,.03,.06,.09],[0,.03,.06,.09],[0,.03,.06,.09],[0,.03,.06,.09],[0,.03,.06,.09],[0,.03],[0,.03],[0,.03],[0,.03]];
const cIdrYResMed=[.04,.04,.04,.04,.04,.04,.04,.04,.04,.04,.04,.04,.04,.04,.04,.04,.04,.04,.04,.04,.04,.04,.04,.04,.04,.04,.04,.04,.04,.04,.04,.04,.04,.04,.03,.03,.03,.03,.03,.03,.03,.03,.03];

const cVxMed=[.93,.9,.87,.84,.81,.78,.75,.72,.69,.67,.66,.64,.62,.6,.58,.57,.55,.53,.51,.49,.48,.47,.46,.45,.45,.44,.44,.43,.43,.42,.42,.42,.41,.41,.41,.40,.40,.40,.40,.40,.40,.40,.40,.40];
const cVxPts=[
[.35,.65,.75,.85,.95,1.05,1.2,1.5,1.85],[.35,.65,.75,.85,.95,1.05,1.15,1.45,1.75],[.35,.6,.7,.8,.9,1.0,1.1,1.45,1.7],[.35,.6,.7,.8,.9,1.0,1.45,1.65],
[.3,.55,.65,.75,.85,1.0,1.4,1.6],[.28,.55,.65,.75,.85,1.0,1.4,1.55],[.25,.5,.6,.7,.8,.95,1.3,1.4],[.25,.45,.55,.65,.75,.95,1.25,1.35],
[.25,.4,.5,.6,.7,.95,1.25,1.35],[.25,.35,.45,.55,.65,.9,1.2,1.35],[.25,.35,.45,.55,.65,.9,1.2,1.3],[.25,.35,.45,.55,.65,.85,1.15,1.3],
[.22,.32,.42,.52,.62,.85,1.15,1.3],[.2,.3,.4,.5,.6,.8,1.1,1.3],[.2,.3,.4,.5,.6,.7,.82,1.1,1.25],[.2,.3,.4,.5,.6,.7,.8,1.0,1.2],
[.2,.3,.4,.5,.6,.75,.9,1.0,1.2],[.2,.3,.4,.5,.65,.92,1.0,1.15],[.2,.3,.4,.5,.65,.95,1.15],[.2,.3,.4,.5,.65,.9,1.0,1.15],
[.2,.3,.4,.5,.65,.9,1.1],[.2,.3,.4,.5,.65,.85,.95,1.1],[.2,.3,.4,.5,.65,.8,.9,1.05],[.18,.28,.38,.48,.6,.7,.8,.9,1.05],
[.18,.28,.38,.48,.6,.7,.8,.9,1.0],[.18,.28,.38,.48,.6,.7,.8,.9,1.0],[.18,.28,.38,.48,.6,.72,.8,.92],[.18,.28,.38,.48,.6,.72,.85,.92],
[.18,.28,.38,.48,.6,.72,.85,.92],[.18,.28,.38,.48,.6,.7,.8,.9],[.18,.28,.38,.48,.55,.65,.75,.85,.9],[.18,.28,.38,.48,.55,.65,.75,.85,.9],
[.18,.28,.38,.48,.55,.65,.75,.85,.9],[.18,.28,.38,.48,.55,.65,.75,.85,.9],[.18,.28,.38,.48,.55,.65,.75,.85,.9],[.18,.28,.38,.48,.55,.65,.75,.85],
[.18,.28,.38,.48,.55,.65,.75,.85],[.18,.28,.38,.48,.55,.65,.75,.85],[.18,.28,.38,.48,.55,.65,.75,.85],[.18,.28,.38,.48,.55,.65,.75,.85],
[.18,.28,.38,.48,.55,.65,.75,.85],[.25,.35,.45,.55,.65,.75],[.25,.35,.45,.55,.65,.75],[.25,.35,.45,.55,.65,.75]];

const cVyMed=[1.02,.98,.94,.9,.86,.82,.79,.76,.73,.7,.68,.65,.63,.61,.59,.57,.56,.54,.52,.5,.48,.47,.46,.45,.44,.43,.42,.41,.40,.39,.38,.38,.38,.37,.37,.36,.36,.36,.35,.35,.35,.35,.35,.35];
const cVyPts=[
[.6,.7,.8,.9,1.0,1.1,1.2,1.3,1.4,1.5,1.85],[.55,.65,.75,.85,.95,1.1,1.2,1.3,1.4,1.5,1.8],[.5,.6,.7,.8,.9,1.05,1.15,1.25,1.35,1.45,1.8],
[.5,.6,.7,.8,.9,1.05,1.15,1.25,1.5,1.75],[.45,.55,.65,.75,.85,.95,1.05,1.15,1.3,1.65],[.4,.5,.6,.7,.85,.95,1.1,1.2,1.4,1.6],
[.38,.5,.6,.7,.8,1.0,1.1,1.2,1.4,1.55],[.35,.45,.55,.65,.75,.9,1.0,1.1,1.3,1.5],[.3,.5,.6,.7,.85,.95,1.05,1.15,1.4],
[.3,.45,.55,.65,.85,.95,1.05,1.15,1.3],[.28,.4,.5,.6,.75,.85,.95,1.05,1.25],[.28,.4,.5,.6,.7,.8,.9,1.0,1.25],[.28,.38,.48,.58,.68,.8,.9,1.0,1.1,1.2],
[.3,.4,.5,.6,.7,.85,.95,1.05,1.15],[.3,.4,.5,.6,.7,.8,.9,1.0,1.15],[.3,.4,.5,.6,.75,.85,.95,1.05],[.3,.4,.5,.6,.75,.85,.95,1.05],
[.3,.4,.5,.6,.75,.85,.95,1.05],[.3,.4,.5,.6,.7,.8,.95,1.05],[.25,.35,.45,.55,.7,.8,.95,1.05],[.25,.35,.45,.55,.7,.8,.9,1.0],
[.25,.35,.45,.55,.65,.75,.9,1.0],[.25,.35,.45,.55,.65,.75,.85,1.0],[.25,.35,.45,.55,.65,.75,.85,1.0],[.25,.35,.45,.55,.65,.75,.85,.95],
[.25,.35,.45,.55,.65,.75,.85,.95],[.25,.35,.45,.55,.65,.75,.85,.92],[.25,.35,.45,.55,.65,.75,.85,.92],[.25,.35,.45,.55,.65,.75,.85,.92],
[.25,.35,.45,.55,.65,.75,.82,.9],[.25,.35,.45,.55,.65,.75,.82],[.25,.35,.45,.55,.65,.75,.82],[.25,.35,.45,.55,.65,.75,.82],
[.25,.35,.45,.55,.65,.75],[.25,.35,.45,.55,.65,.75],[.25,.35,.45,.55,.65,.75,.8],[.25,.35,.45,.55,.65,.75,.8],[.25,.35,.45,.55,.65,.75,.8],
[.25,.35,.45,.55,.65,.75,.8],[.25,.35,.45,.55,.65,.75,.8],[.25,.35,.45,.55,.65,.75,.8],[.25,.35,.45,.55,.65,.75,.8],[.25,.35,.45,.55,.65,.75,.8],
[.25,.35,.45,.55,.65,.75,.8]];

const cAxMed=[.29,.24,.23,.22,.22,.2,.2,.2,.2,.2,.2,.2,.19,.19,.19,.19,.19,.19,.19,.19,.19,.18,.18,.18,.18,.18,.17,.17,.17,.17,.17,.17,.17,.17,.17,.17,.18,.18,.18,.19,.32,.33,.23,.19];
const cAxPts=[
[.15,.22,.25,.28,.31,.34,.38],[.12,.16,.2,.24,.28,.34],[.12,.16,.2,.24,.3],[.13,.18,.22,.26,.3,.33],[.14,.18,.22,.26,.32],[.12,.16,.2,.24,.28],
[.11,.15,.19,.23,.28],[.1,.14,.18,.22,.26,.3],[.08,.12,.16,.2,.24,.29],[.1,.14,.18,.22,.26],[.11,.15,.19,.23,.29],[.11,.15,.19,.23,.3],
[.11,.15,.19,.23,.28],[.11,.15,.19,.23,.27],[.12,.16,.2,.24,.29],[.12,.16,.2,.23],[.12,.16,.2,.24,.28],[.12,.16,.2,.24,.28],
[.12,.16,.2,.24,.3,.33],[.12,.16,.2,.24,.32],[.12,.16,.2,.24,.27],[.12,.16,.2,.24,.28],[.12,.16,.2,.24,.29],[.11,.15,.19,.24,.28,.3],
[.11,.15,.19,.24,.29],[.1,.14,.18,.22,.25],[.1,.14,.18,.21],[.1,.14,.18,.22,.25],[.1,.14,.18,.21,.25],[.11,.15,.19,.25],[.1,.14,.18,.22,.25],
[.09,.13,.17,.21,.25,.28],[.09,.13,.17,.21,.28],[.09,.13,.17,.21,.24],[.08,.12,.16,.2,.24],[.08,.12,.16,.2,.23],[.1,.13,.16,.19,.24],
[.1,.13,.16,.19,.24],[.11,.14,.17,.2,.25],[.12,.15,.18,.22,.25],[.18,.22,.26,.3,.34,.38,.45,.52],[.2,.24,.28,.32,.4,.5,.63,.7],
[.15,.19,.23,.27,.32,.36],[.13,.16,.19,.22,.25,.28,.33]];

const cAyMed=[.27,.25,.24,.23,.23,.23,.23,.24,.25,.25,.25,.25,.25,.24,.23,.22,.22,.21,.2,.2,.19,.19,.19,.19,.19,.19,.18,.18,.18,.18,.18,.18,.18,.18,.18,.18,.18,.18,.18,.19,.26,.33,.24,.18];
const cAyPts=[
[.2,.25,.28,.31,.38],[.18,.22,.26,.3],[.15,.19,.23,.27,.32],[.17,.21,.25,.28],[.13,.17,.21,.25,.3,.34],[.14,.18,.22,.26,.32],
[.14,.18,.22,.26,.3],[.13,.21,.24,.27,.31],[.13,.21,.24,.27,.33],[.13,.17,.21,.25,.29,.33],[.16,.2,.24,.28,.33],[.17,.21,.25,.28,.33],
[.14,.18,.22,.26,.3],[.14,.18,.22,.26,.32],[.14,.17,.2,.24,.28],[.14,.17,.2,.23,.26,.32],[.12,.16,.2,.24,.28],[.12,.16,.2,.24,.28,.33],
[.12,.16,.2,.24,.3,.34],[.12,.16,.2,.24,.28],[.13,.17,.21,.25,.28],[.11,.15,.19,.23,.27],[.11,.15,.19,.23,.27,.3],[.11,.15,.19,.23,.27,.29],
[.12,.16,.2,.24,.28],[.1,.14,.18,.22,.27],[.08,.12,.16,.2,.24,.27],[.12,.16,.2,.24,.27],[.12,.16,.2,.24,.28],[.12,.16,.2,.24,.31],
[.12,.16,.2,.24,.29],[.11,.15,.19,.23,.26],[.11,.15,.19,.23,.26],[.11,.15,.19,.23,.25],[.11,.15,.19,.23,.25],[.12,.16,.2,.24],[.12,.16,.2,.24],
[.12,.16,.2,.24,.28],[.12,.16,.2,.24,.3],[.12,.16,.2,.24,.32],[.13,.17,.21,.25,.29,.36,.4],[.15,.25,.3,.35,.4,.45,.5,.55],
[.12,.16,.2,.24,.28,.35],[.12,.16,.2,.24]];

// ---------------- layout (positions only) ----------------
const rowsLayout=[
 {boxes:[[38,186,37,479],[208,356,37,479],[381,542,35,478],[569,731,35,478],[761,922,35,478],[949,1111,33.5,476]],
  titleY:31,titleSize:24,letterX:1110,letterY:19,
  legend:{x0:106,x1:193,y0:168,y1:223,rows:[174,188.3,202.3,216.8],sym:132.7,lx0:115,lx1:152.7,tx:153.5,font:"'Liberation Serif',serif",size:10.4}},
 {boxes:[[50,195,568,1007],[218,362,568,1007],[391.7,550.3,568,1006.5],[577.7,735.7,568,1006.5],[760,917,567,1005.5],[945.7,1103.3,564.5,1003]],
  titleY:563,titleSize:23,letterX:1111,letterY:552,
  legend:{x0:117,x1:212,y0:698,y1:754,rows:[705,718.3,732.3,746],sym:142.5,lx0:124,lx1:162,tx:164,font:"'Liberation Serif',serif",size:11}},
 {boxes:[[41,186,1092,1528],[209.3,354.3,1092,1528],[378.7,537.6,1091,1528],[565.6,724.1,1091,1528],[754,913,1091,1528],[940.5,1099.5,1089,1525]],
  titleY:1088,titleSize:23,letterX:1111,letterY:1071,
  legend:{x0:108,x1:203,y0:1220,y1:1277,rows:[1227.7,1241.7,1255.7,1270],sym:133.3,lx0:115,lx1:152,tx:155,font:"Lato,'Liberation Sans',sans-serif",size:10.5}}
];
const rowsData=[
 [{pts:aIdrXPts,med:aIdrXMed,res:aIdrXRes,resMed:aIdrXResMed},{pts:aIdrYPts,med:aIdrYMed,res:aIdrYRes,resMed:aIdrYResMed},
  {pts:aVxPts,med:aVxMed},{pts:aVyPts,med:aVyMed},{pts:aAxPts,med:aAxMed},{pts:aAyPts,med:aAyMed}],
 [{pts:bIdrXPts,med:bIdrXMed,res:bIdrXRes,resMed:bIdrXResMed},{pts:bIdrYPts,med:bIdrYMed,res:bIdrYRes,resMed:bIdrYResMed},
  {pts:bVxPts,med:bVxMed},{pts:bVyPts,med:bVyMed},{pts:bAxPts,med:bAxMed},{pts:bAyPts,med:bAyMed}],
 [{pts:cIdrXPts,med:cIdrXMed,res:cIdrXRes,resMed:cIdrXResMed},{pts:cIdrYPts,med:cIdrYMed,res:cIdrYRes,resMed:cIdrYResMed},
  {pts:cVxPts,med:cVxMed},{pts:cVyPts,med:cVyMed},{pts:cAxPts,med:cAxMed},{pts:cAyPts,med:cAyMed}]
];
const kinds=[
 {dom:[0,2],ticks:idrTicks,labels:idrTickLabels,levels:idrStories},
 {dom:[0,2],ticks:idrTicks,labels:idrTickLabels,levels:idrStories},
 {dom:[0,3],ticks:vTicks,labels:vTickLabels,levels:vaLevels},
 {dom:[0,3],ticks:vTicks,labels:vTickLabels,levels:vaLevels},
 {dom:[0,1],ticks:aTicks,labels:aTickLabels,levels:vaLevels},
 {dom:[0,1],ticks:aTicks,labels:aTickLabels,levels:vaLevels}
];

const svg=d3.select("#c");
const xMark="M-2.1,-2.1L2.1,2.1M-2.1,2.1L2.1,-2.1";

function pairTopDown(list,levels){
  const top=levels.slice().reverse();
  return list.map((v,i)=>({v:v,lv:top[i]}));
}

function drawPanel(box,k,d,rowIdx,pi){
  const [x0,x1,y0,y1]=box;
  const x=d3.scaleLinear().domain(k.dom).range([x0,x1]);
  const y=d3.scaleLinear().domain([0,45]).range([y1,y0]);
  const g=svg.append("g");
  g.selectAll(null).data(gridLevels).join("line").attr("class","grid")
    .attr("x1",x0).attr("x2",x1).attr("y1",v=>y(v)).attr("y2",v=>y(v));
  g.selectAll(null).data(k.ticks.slice(1,-1)).join("line").attr("class","grid")
    .attr("x1",v=>x(v)).attr("x2",v=>x(v)).attr("y1",y0).attr("y2",y1);
  const tops=k.levels.slice().reverse();
  const pts=[];
  d.pts.forEach((arr,i)=>arr.forEach(v=>pts.push({v:v,lv:tops[i]})));
  g.append("g").selectAll("path").data(pts).join("path").attr("d",xMark)
    .attr("transform",p=>`translate(${x(p.v)},${y(p.lv)})`)
    .attr("stroke","#000").attr("stroke-width",1.25).attr("fill","none");
  if(d.res){
    const rp=[];
    d.res.forEach((arr,i)=>arr.forEach(v=>rp.push({v:v,lv:tops[i]})));
    g.append("g").selectAll("circle").data(rp).join("circle")
      .attr("cx",p=>x(p.v)).attr("cy",p=>y(p.lv)).attr("r",2.1)
      .attr("fill","none").attr("stroke","#000").attr("stroke-width",1.3);
  }
  const line=d3.line().x(p=>x(p.v)).y(p=>y(p.lv));
  if(d.resMed){
    g.append("path").datum(pairTopDown(d.resMed,k.levels)).attr("d",line)
      .attr("fill","none").attr("stroke","#000").attr("stroke-width",3.2).attr("stroke-dasharray","10,7");
  }
  g.append("path").datum(pairTopDown(d.med,k.levels)).attr("d",line)
    .attr("fill","none").attr("stroke","#000").attr("stroke-width",3.3).attr("stroke-linejoin","round");
  g.append("rect").attr("class","frame").attr("x",x0).attr("y",y0).attr("width",x1-x0).attr("height",y1-y0);
  const xa=d3.axisBottom(x).tickValues(k.ticks).tickFormat((v,i)=>k.labels[i]).tickSize(4).tickSizeOuter(0).tickPadding(5);
  const gx=g.append("g").attr("class","ax").attr("transform",`translate(0,${y1})`).call(xa);
  gx.selectAll("text").style("font-size","13px");
  if(pi===0){
    const ya=d3.axisLeft(y).tickValues(yTicks).tickSize(4).tickSizeOuter(0).tickPadding(5);
    const gy=g.append("g").attr("class","ax").attr("transform",`translate(${x0},0)`).call(ya);
    gy.selectAll("text").style("font-size","14px");
  }
  g.append("text").attr("x",(x0+x1)/2-8).attr("y",rowsLayout[rowIdx].titleY).attr("text-anchor","middle")
    .style("font-family","'Liberation Serif',serif").style("font-weight","bold").style("font-size",rowsLayout[rowIdx].titleSize+"px")
    .text(panelTitles[pi]);
}

function drawLegend(L){
  const g=svg.append("g");
  g.append("rect").attr("x",L.x0).attr("y",L.y0).attr("width",L.x1-L.x0).attr("height",L.y1-L.y0)
    .attr("fill","#fff").attr("stroke","#000").attr("stroke-width",1);
  g.append("path").attr("d",xMark).attr("transform",`translate(${L.sym},${L.rows[0]})`).attr("stroke","#000").attr("stroke-width",1.1);
  g.append("line").attr("x1",L.lx0).attr("x2",L.lx1).attr("y1",L.rows[1]).attr("y2",L.rows[1]).attr("stroke","#000").attr("stroke-width",3);
  g.append("circle").attr("cx",L.sym).attr("cy",L.rows[2]).attr("r",2).attr("fill","none").attr("stroke","#000").attr("stroke-width",1);
  g.append("line").attr("x1",L.lx0).attr("x2",L.lx1).attr("y1",L.rows[3]).attr("y2",L.rows[3]).attr("stroke","#000").attr("stroke-width",3).attr("stroke-dasharray","13,10");
  g.selectAll("text").data(legendLabels).join("text").attr("x",L.tx).attr("y",(t,i)=>L.rows[i]).attr("dy","0.35em")
    .style("font-family",L.font).style("font-size",L.size+"px").text(t=>t);
}

rowsLayout.forEach((R,ri)=>{
  R.boxes.forEach((b,pi)=>drawPanel(b,kinds[pi],rowsData[ri][pi],ri,pi));
  drawLegend(R.legend);
  svg.append("text").attr("x",R.letterX).attr("y",R.letterY).attr("text-anchor","middle")
    .style("font-family","'Liberation Serif',serif").style("font-size","17px").text(rowLetters[ri]);
});
</script></body></html>
